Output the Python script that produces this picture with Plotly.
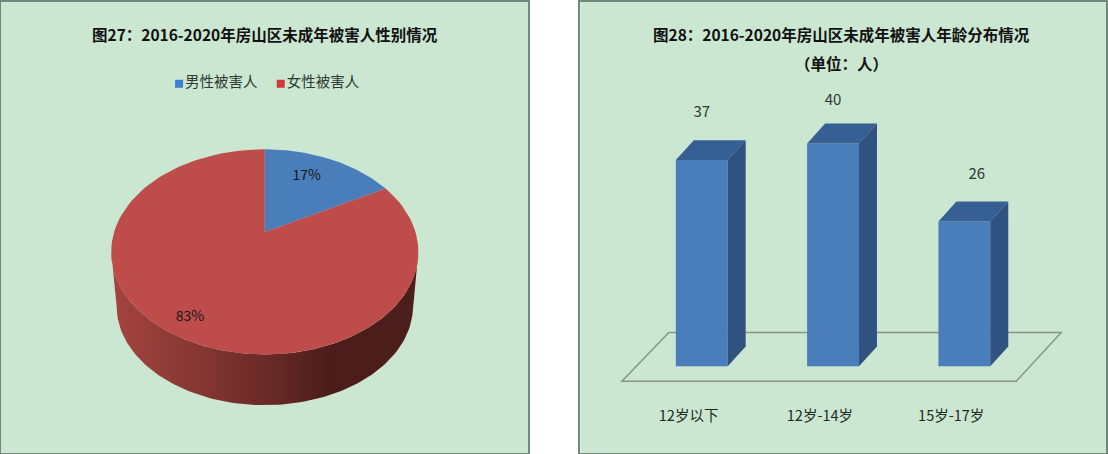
import numpy as np
import plotly.graph_objects as go

FONT = "Noto Sans CJK SC, sans-serif"
BG = "#cbe6d1"
BORDER = "#74877f"
BLUE = "#4a7ebb"
RED = "#bd4c4a"

# left chart
gender_names = ["男性被害人", "女性被害人"]
gender_shares = [17, 83]
gender_colors = ["#3f7fd0", "#d23a38"]

# right chart
age_groups = ["12岁以下", "12岁-14岁", "15岁-17岁"]
age_counts = [37, 40, 26]

# pie projection, px inside the left panel
CX, CY = 265, 251
RX, RY = 154, 103
TIP = 20  # circle centre sits above the ellipse centre
K = TIP / RY
A = RX * np.sqrt(1 - K ** 2)


def project(theta):
    # tilted disc: theta is the true angle from 12 o'clock
    w = 1 + K * np.cos(theta)
    return CX + A * np.sin(theta) / w, CY - (RY * np.cos(theta) + TIP) / w


def wedge(start, end):
    t = np.linspace(start, end, 120)
    x, y = project(t)
    return np.r_[CX, x, CX], np.r_[CY - TIP, y, CY - TIP]


fig = go.Figure()

# pie side wall
t = np.linspace(np.pi / 2, -np.pi / 2, 120)
low_x = CX - RX * 0.965 * np.sin(t)
low_y = 305.5 + RY * 0.965 * np.cos(t)
top_x = CX + RX * np.sin(t)
top_y = CY + RY * np.cos(t)
fig.add_trace(go.Scatter(
    x=np.r_[low_x, top_x], y=np.r_[low_y, top_y], mode="lines", fill="toself",
    line=dict(width=0, color="#6b2a28"),
    fillgradient=dict(type="horizontal", colorscale=[
        [0, "#a5443f"], [0.3, "#843633"], [0.55, "#642725"],
        [0.72, "#4b1c1a"], [1, "#4c1f1c"]]),
    hoverinfo="skip", xaxis="x", yaxis="y",
))

# pie top face
split = 2 * np.pi * gender_shares[0] / sum(gender_shares)
for name, share, color, (wx, wy) in zip(
        gender_names, gender_shares, [BLUE, RED],
        [wedge(0, split), wedge(split, 2 * np.pi)]):
    fig.add_trace(go.Scatter(
        x=wx, y=wy, mode="lines", fill="toself", fillcolor=color,
        line=dict(width=0, color=color), name=name,
        text=f"{name}: {share}%", hoverinfo="text", xaxis="x", yaxis="y",
    ))

fig.add_trace(go.Scatter(
    x=[307, 190], y=[175, 317], mode="text",
    text=[f"{s}%" for s in gender_shares],
    textfont=dict(family=FONT, size=14, color="#161616"),
    hoverinfo="skip", xaxis="x", yaxis="y",
))

# legend drawn by hand, small squares sit right next to the text
fig.add_trace(go.Scatter(
    x=[179, 281], y=[82, 82], mode="markers+text",
    marker=dict(symbol="square", size=8, color=gender_colors),
    text=gender_names, textposition="middle right",
    textfont=dict(family=FONT, size=14.5, color="#2e3a34"),
    hoverinfo="skip", xaxis="x", yaxis="y",
))

# bars, front faces use the value axis
BAR_W = 0.395
DX = 0.137  # depth in category units
DY = 3.57  # depth in people
idx = np.arange(len(age_groups))
counts = np.array(age_counts)

fig.add_trace(go.Bar(
    x=idx, y=counts, width=BAR_W, marker=dict(color=BLUE, line=dict(width=0)),
    customdata=age_groups, hovertemplate="%{customdata}: %{y}<extra></extra>",
    xaxis="x2", yaxis="y2",
))
for i, v in zip(idx, counts):
    left, right = i - BAR_W / 2, i + BAR_W / 2
    # top
    fig.add_trace(go.Scatter(
        x=[left, right, right + DX, left + DX, left],
        y=[v, v, v + DY, v + DY, v], mode="lines", fill="toself",
        fillcolor="#365f94", line=dict(width=0), hoverinfo="skip",
        xaxis="x2", yaxis="y2",
    ))
    # side
    fig.add_trace(go.Scatter(
        x=[right, right + DX, right + DX, right, right],
        y=[0, DY, v + DY, v, 0], mode="lines", fill="toself",
        fillcolor="#2f5280", line=dict(width=0), hoverinfo="skip",
        xaxis="x2", yaxis="y2",
    ))

# value labels
fig.add_trace(go.Scatter(
    x=idx + np.array([0, 0, 0.095]), y=counts + np.array([8.4, 7.5, 8.2]),
    mode="text", text=[str(v) for v in age_counts],
    textfont=dict(family=FONT, size=15, color="#2e3a34"),
    hoverinfo="skip", xaxis="x2", yaxis="y2",
))
# category labels
fig.add_trace(go.Scatter(
    x=idx - 0.1, y=[-9.1] * len(idx), mode="text", text=age_groups,
    textfont=dict(family=FONT, size=14.5, color="#1f2a25"),
    hoverinfo="skip", xaxis="x2", yaxis="y2",
))

# floor of the bar chart
floor = "M -0.608 -2.68 L 2.395 -2.68 L 2.738 6.07 L -0.251 6.07 Z"

hidden = dict(visible=True, showgrid=False, zeroline=False, showticklabels=False,
              ticks="", showline=True, mirror=True, linecolor=BORDER, linewidth=1.5)

title = dict(showarrow=False, xref="paper", yref="paper", xanchor="center", yanchor="middle",
             font=dict(family=FONT, size=15.5, color="#111111"))

fig.update_layout(
    width=1108, height=454,
    margin=dict(l=0, r=0, t=0, b=0),
    paper_bgcolor="white", plot_bgcolor=BG,
    showlegend=False,
    xaxis=dict(domain=[0.0005, 529 / 1108], range=[0, 529], **hidden),
    yaxis=dict(domain=[1 / 454, 1], range=[453, 0], **hidden),
    xaxis2=dict(domain=[581.5 / 1108, 1], range=[-0.924, 3.079], anchor="y2", **hidden),
    yaxis2=dict(domain=[1 / 454, 1], range=[-15.54, 65.36], anchor="x2", **hidden),
    shapes=[dict(type="path", path=floor, xref="x2", yref="y2", layer="below",
                 line=dict(color="#8a9389", width=1.5))],
    annotations=[
        dict(text="<b>图27：2016-2020年房山区未成年被害人性别情况</b>",
             x=265 / 1108, y=1 - 32 / 454, **title),
        dict(text="<b>图28：2016-2020年房山区未成年被害人年龄分布情况</b>",
             x=843.5 / 1108, y=1 - 32 / 454, **title),
        dict(text="<b>（单位：人）</b>",
             x=843.5 / 1108, y=1 - 61 / 454, **title),
    ],
)

# page default margin would push the chart 8px off
fig.write_html("out.html", config=dict(displayModeBar=False),
               post_script="document.body.style.margin = '0';")
